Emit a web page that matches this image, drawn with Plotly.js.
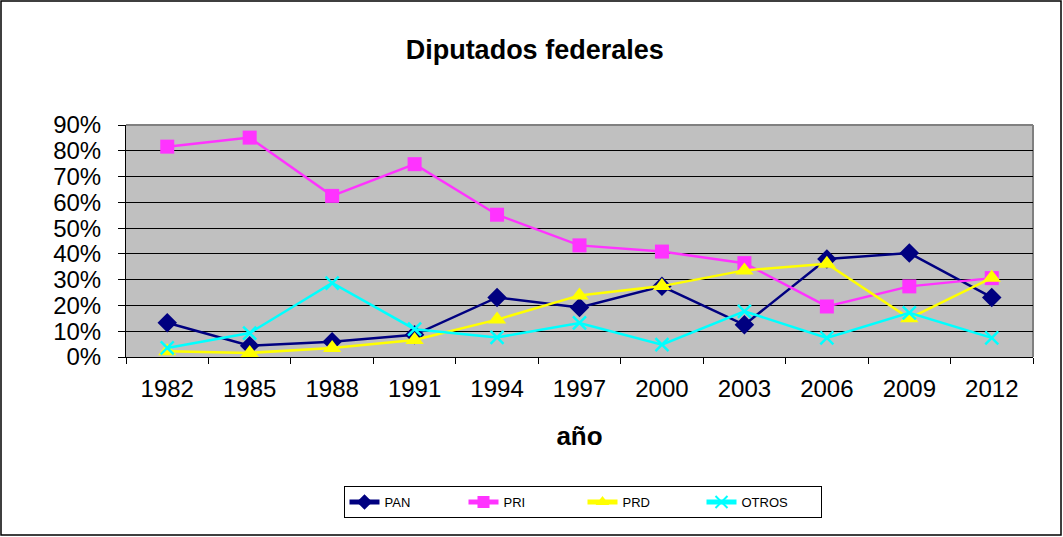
<!DOCTYPE html>
<html>
<head>
<meta charset="utf-8">
<script src="https://cdn.plot.ly/plotly-3.0.1.min.js"></script>
<style>
  html, body { margin: 0; padding: 0; background: #ffffff; }
  #chart { width: 1063px; height: 537px; }
</style>
</head>
<body>
<div id="chart"></div>
<script>
// Data (fractions)
const years = ['1982','1985','1988','1991','1994','1997','2000','2003','2006','2009','2012'];
const pan   = [0.133, 0.044, 0.059, 0.086, 0.231, 0.192, 0.274, 0.125, 0.380, 0.403, 0.231];
const pri   = [0.816, 0.851, 0.625, 0.748, 0.552, 0.433, 0.409, 0.364, 0.196, 0.274, 0.306];
const prd   = [0.022, 0.016, 0.035, 0.066, 0.145, 0.239, 0.275, 0.336, 0.362, 0.150, 0.307];
const otros = [0.035, 0.093, 0.287, 0.108, 0.076, 0.132, 0.048, 0.177, 0.074, 0.171, 0.074];
const yTicks = [0, 0.1, 0.2, 0.3, 0.4, 0.5, 0.6, 0.7, 0.8, 0.9];

const FONT = 'Liberation Sans, Arial, sans-serif';

const traces = [
  { name: 'PAN', x: years, y: pan, type: 'scatter', mode: 'lines+markers',
    line: { color: '#000080', width: 2.5 },
    marker: { symbol: 'diamond', size: 15, color: '#000080' } },
  { name: 'PRI', x: years, y: pri, type: 'scatter', mode: 'lines+markers',
    line: { color: '#FF33FF', width: 2.5 },
    marker: { symbol: 'square', size: 14, color: '#FF33FF' } },
  { name: 'PRD', x: years, y: prd, type: 'scatter', mode: 'lines+markers',
    line: { color: '#FFFF00', width: 2.5 },
    marker: { symbol: 'triangle-up', size: 16, color: '#FFFF00' } },
  { name: 'OTROS', x: years, y: otros, type: 'scatter', mode: 'lines+markers',
    line: { color: '#00FFFF', width: 2.5 },
    marker: { symbol: 'x-thin', size: 13, color: '#00FFFF', line: { color: '#00FFFF', width: 2.5 } } }
];

const L = 126, R = 30, T = 125, B = 180, W = 1063, H = 537;
const pw = W - L - R, ph = H - T - B;
const px = v => (v - L) / pw;
const py = v => (H - B - v) / ph;

const layout = {
  width: W, height: H,
  margin: { l: L, r: R, t: T, b: B, pad: 0 },
  paper_bgcolor: '#ffffff',
  plot_bgcolor: '#C0C0C0',
  font: { family: FONT, color: '#000000' },
  title: { text: '<b>Diputados federales</b>', font: { family: FONT, size: 27, color: '#000' },
           x: 0.503, xref: 'container', y: 1 - 50 / H, yref: 'container', yanchor: 'middle', xanchor: 'center' },
  showlegend: true,
  legend: {
    orientation: 'h', x: px(582.5), xanchor: 'center', y: py(502), yanchor: 'middle',
    bordercolor: '#000000', borderwidth: 1, bgcolor: '#ffffff',
    font: { family: FONT, size: 13, color: '#000' },
    entrywidth: 74, entrywidthmode: 'pixels', itemclick: false,
    itemsizing: 'constant'
  },
  xaxis: {
    type: 'category', categoryorder: 'array', categoryarray: years,
    range: [-0.5, years.length - 0.5],
    showgrid: false, zeroline: false,
    showline: true, linecolor: '#000000', linewidth: 1,
    ticks: 'outside', tickson: 'boundaries', ticklen: 6, tickcolor: '#000', tickwidth: 1,
    tickfont: { family: FONT, size: 24, color: '#000' },
    ticklabelstandoff: 10,
    title: { text: '<b>año</b>', font: { family: FONT, size: 26, color: '#000' }, standoff: 26 },
    fixedrange: true
  },
  yaxis: {
    range: [0, 0.9], tickvals: yTicks, tickformat: '.0%',
    showgrid: true, gridcolor: '#000000', gridwidth: 1, zeroline: false,
    showline: true, linecolor: '#000000', linewidth: 1,
    ticks: 'outside', ticklen: 7, tickcolor: '#000', tickwidth: 1,
    tickfont: { family: FONT, size: 24, color: '#000' },
    ticklabelstandoff: 12,
    fixedrange: true
  },
  shapes: [
    // outer chart border
    { type: 'rect', xref: 'paper', yref: 'paper', layer: 'above',
      x0: px(1), x1: px(1061), y0: py(535), y1: py(1),
      line: { color: '#000000', width: 1.5 }, fillcolor: 'rgba(0,0,0,0)' },
    // gray plot-area border (top & right)
    { type: 'line', xref: 'paper', yref: 'paper', layer: 'below',
      x0: 0, x1: 1, y0: 1, y1: 1, line: { color: '#808080', width: 2 } },
    { type: 'line', xref: 'paper', yref: 'paper', layer: 'below',
      x0: 1, x1: 1, y0: 0, y1: 1, line: { color: '#808080', width: 2 } }
  ]
};

Plotly.newPlot('chart', traces, layout, { displayModeBar: false, staticPlot: true });
</script>
</body>
</html>
